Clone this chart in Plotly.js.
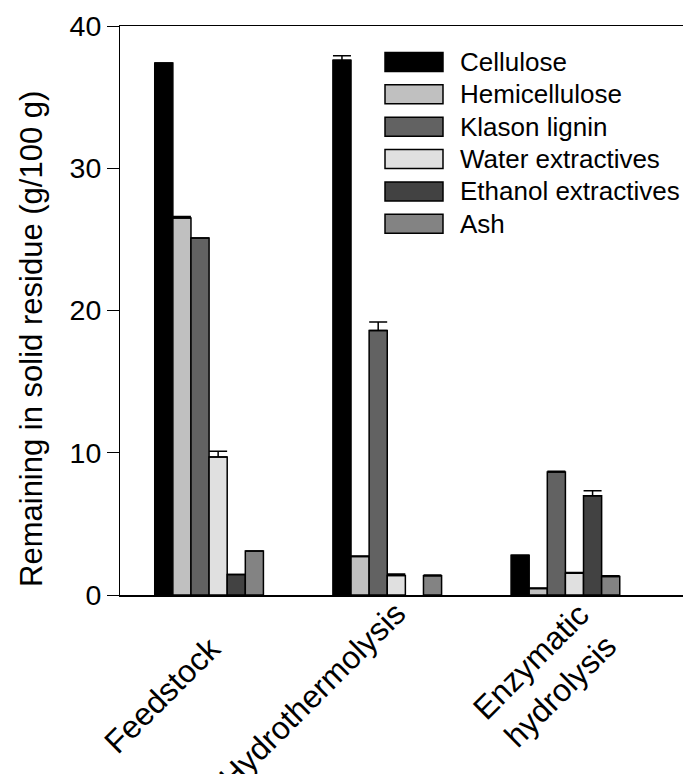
<!DOCTYPE html>
<html>
<head>
<meta charset="utf-8">
<script src="https://cdn.plot.ly/plotly-3.0.1.min.js"></script>
<style>html,body{margin:0;padding:0;background:#fff;}#chart{width:684px;height:774px;}</style>
</head>
<body>
<div id="chart"></div>
<script>
// ---- data ----
const categories = ["Feedstock", "Hydrothermolysis", "Enzymatic<br>hydrolysis"];
const seriesNames = ["Cellulose", "Hemicellulose", "Klason lignin", "Water extractives", "Ethanol extractives", "Ash"];
const cellulose = [37.4, 37.6, 2.8];
const hemicellulose = [26.5, 2.7, 0.45];
const klasonLignin = [25.1, 18.6, 8.65];
const waterExtractives = [9.7, 1.37, 1.53];
const ethanolExtractives = [1.44, null, 6.97];
const ash = [3.1, 1.35, 1.3];
const celluloseErr = [0, 0.3, 0];
const hemicelluloseErr = [0.1, 0.05, 0.05];
const klasonErr = [0, 0.6, 0.05];
const waterErr = [0.4, 0.1, 0.05];
const ethanolErr = [0, 0, 0.35];
const ashErr = [0, 0.05, 0.05];
const seriesColors = ["#000000", "#c0c0c0", "#626262", "#e0e0e0", "#424242", "#838383"];
const yTitle = "Remaining in solid residue (g/100 g)";

const values = [cellulose, hemicellulose, klasonLignin, waterExtractives, ethanolExtractives, ash];
const errs = [celluloseErr, hemicelluloseErr, klasonErr, waterErr, ethanolErr, ashErr];

const FONT = "Liberation Sans, Arial, sans-serif";

const traces = seriesNames.map((name, i) => ({
  type: "bar",
  name: name,
  x: [0, 1, 2],
  y: values[i],
  marker: {color: seriesColors[i], line: {color: "#000", width: 1.5}},
  error_y: {type: "data", array: errs[i], arrayminus: [0, 0, 0], symmetric: false,
            color: "#000", thickness: 1.5, width: 9},
  showlegend: false
}));

const shapes = [];
const annotations = [];

// manual legend (wide swatches like the original)
const lgX0 = 0.4707, lgX1 = 0.5737, lgTop = 0.9368, lgStep = 0.0569, lgH = 0.0333;
seriesNames.forEach((name, i) => {
  const yc = lgTop - i * lgStep;
  shapes.push({type: "rect", xref: "paper", yref: "paper", x0: lgX0, x1: lgX1,
    y0: yc - lgH / 2, y1: yc + lgH / 2, fillcolor: seriesColors[i],
    line: {color: "#000", width: 1.5}});
  annotations.push({xref: "paper", yref: "paper", x: 0.6, y: yc, xanchor: "left",
    yanchor: "middle", text: name, showarrow: false,
    font: {family: FONT, size: 26, color: "#000"}});
});

// rotated category labels placed at each category position
const labelShift = [[20, -33], [27, 1], [62, 0]];
categories.forEach((c, i) => {
  annotations.push({xref: "x", yref: "paper", x: i, y: 0, xanchor: "right", yanchor: "top",
    xshift: labelShift[i][0], yshift: labelShift[i][1], textangle: -45, text: c,
    showarrow: false, align: "center", borderpad: 0,
    font: {family: FONT, size: 32, color: "#000"}});
});

// y-axis title
annotations.push({xref: "paper", yref: "paper", x: 0, y: 0.45, xshift: -88,
  xanchor: "center", yanchor: "middle", textangle: -90, text: yTitle, showarrow: false,
  font: {family: FONT, size: 31, color: "#000"}});

const layout = {
  width: 684, height: 774,
  margin: {l: 120, r: 1, t: 26, b: 179},
  paper_bgcolor: "#fff", plot_bgcolor: "#fff",
  barmode: "group", bargap: 0.39, bargroupgap: 0,
  font: {family: FONT, color: "#000"},
  xaxis: {
    range: [-0.5, 2.66], tickvals: [0, 1, 2], showticklabels: false,
    ticks: "", showline: true, linecolor: "#000", linewidth: 1.5,
    mirror: true, showgrid: false, zeroline: false
  },
  yaxis: {
    range: [0, 40], dtick: 10, ticks: "outside", ticklen: 12, tickwidth: 1,
    tickcolor: "#000", showline: true, linecolor: "#000", linewidth: 1,
    showgrid: false, zeroline: false,
    tickfont: {family: FONT, size: 28.5, color: "#000"}
  },
  shapes: shapes,
  annotations: annotations
};

Plotly.newPlot("chart", traces, layout, {displayModeBar: false, staticPlot: true});
</script>
</body>
</html>
